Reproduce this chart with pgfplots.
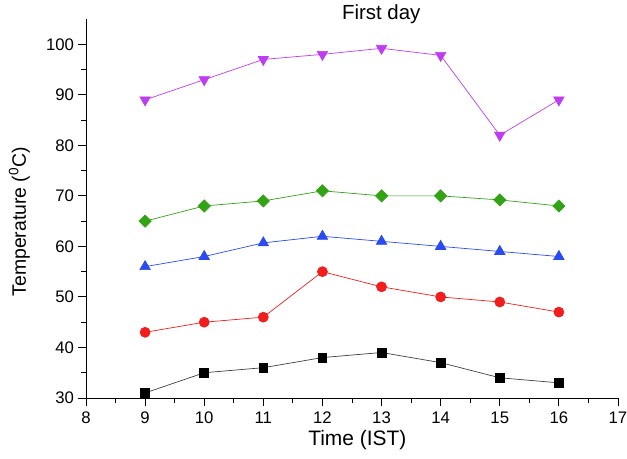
\documentclass[border=0pt]{standalone}
\usepackage{fontspec}
\setmainfont{Liberation Sans}
\usepackage{pgfplots}
\pgfplotsset{compat=1.18}
\definecolor{cblack}{HTML}{000000}
\definecolor{cred}{HTML}{F21E1E}
\definecolor{cblue}{HTML}{2A4BF0}
\definecolor{cgreen}{HTML}{33A316}
\definecolor{cmag}{HTML}{C03CF0}
\begin{document}
\begin{tikzpicture}
\path[use as bounding box] (-86bp,-61bp) rectangle (541bp,398bp);
\begin{axis}[
  scale only axis,
  width=532bp, height=379bp,
  xmin=8, xmax=17, ymin=30, ymax=105,
  axis x line=bottom, axis y line=left,
  axis line style={-, line width=0.9bp},
  xtick={8,...,17}, ytick={30,40,...,100},
  minor x tick num=1, minor y tick num=1,
  tick align=outside,
  major tick length=7.5bp, minor tick length=4.5bp,
  every tick/.style={black, line width=0.9bp},
  tick label style={font=\fontsize{16.8}{20}\selectfont},
  xticklabel style={yshift=-3bp},
  yticklabel style={xshift=-1bp},
  /pgf/number format/assume math mode=true,
  title={First day},
  title style={font=\fontsize{20.5}{24}\selectfont, at={(rel axis cs:0.555,1)}, anchor=base, yshift=-6bp},
  xlabel={Time (IST)},
  xlabel style={font=\fontsize{21}{24}\selectfont, at={(rel axis cs:0.51,0)}, anchor=center, yshift=-42bp},
  ylabel={Temperature (\textsuperscript{0}C)},
  ylabel style={font=\fontsize{19.5}{23}\selectfont, at={(rel axis cs:-0.125,0.465)}, anchor=center},
  every axis plot/.append style={line width=0.7bp},
]
\addplot[color=cblack!75, mark=square*, mark options={fill=cblack, draw=cblack, mark size=4.4bp}] coordinates {
(9,31) (10,35) (11,36) (12,38) (13,39) (14,37) (15,34) (16,33)};
\addplot[color=cred, mark=*, mark options={fill=cred, mark size=5bp}] coordinates {
(9,43) (10,45) (11,46) (12,55) (13,52) (14,50) (15,49) (16,47)};
\addplot[color=cblue, mark=triangle*, mark options={fill=cblue, mark size=6bp}] coordinates {
(9,56) (10,58) (11,60.7) (12,62) (13,61) (14,60) (15,59) (16,58)};
\addplot[color=cgreen, mark=square*, mark options={fill=cgreen, rotate=45, mark size=4.3bp}] coordinates {
(9,65) (10,68) (11,69) (12,71) (13,70) (14,70) (15,69.2) (16,68)};
\addplot[color=cmag, mark=triangle*, mark options={fill=cmag, rotate=180, mark size=6bp}] coordinates {
(9,89) (10,93) (11,97) (12,98) (13,99.2) (14,97.8) (15,82) (16,89)};
\end{axis}
\end{tikzpicture}
\end{document}
